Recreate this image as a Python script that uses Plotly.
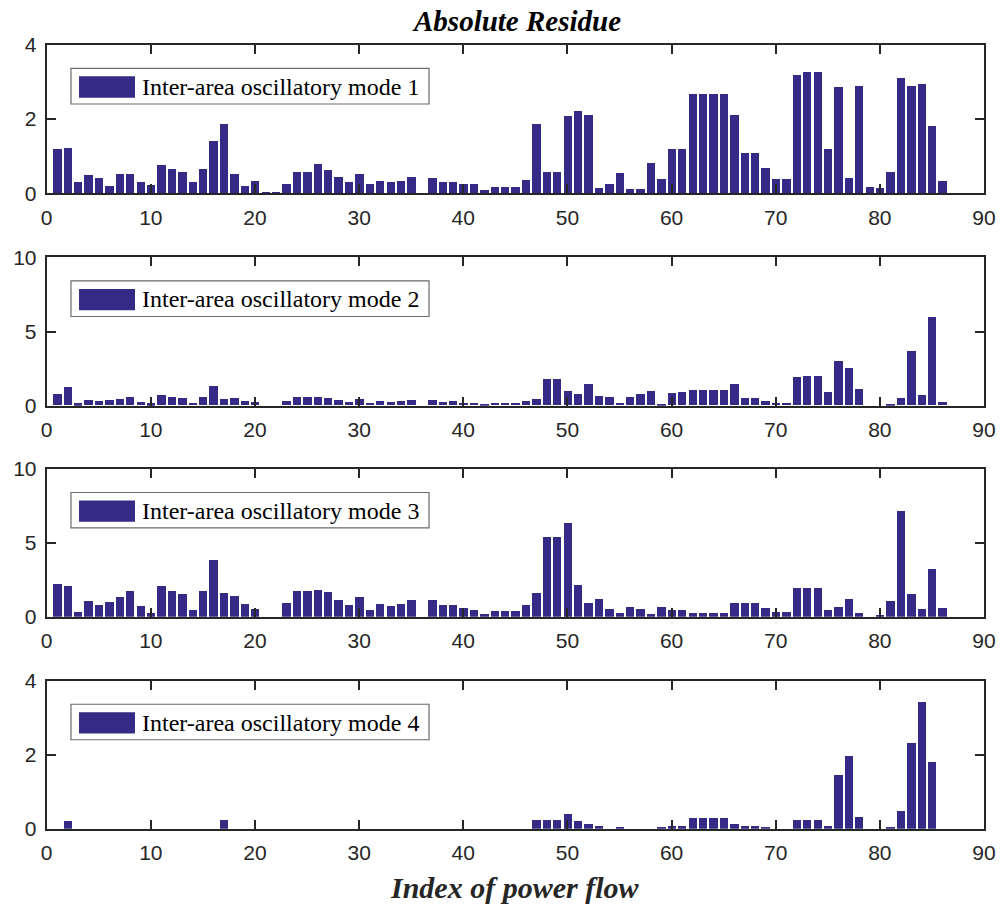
import plotly.graph_objects as go

# Index of each power flow
flow_index = list(range(1, 87))

# Absolute residue per power flow, one list per inter-area oscillatory mode
mode1 = [1.19, 1.22, 0.30, 0.49, 0.41, 0.20, 0.52, 0.52, 0.30, 0.22,
         0.76, 0.65, 0.57, 0.30, 0.65, 1.41, 1.87, 0.52, 0.20, 0.33,
         0.04, 0.04, 0.25, 0.57, 0.57, 0.79, 0.63, 0.44, 0.30, 0.52,
         0.25, 0.33, 0.30, 0.33, 0.44, 0.00, 0.41, 0.30, 0.30, 0.25,
         0.25, 0.09, 0.17, 0.17, 0.17, 0.36, 1.87, 0.57, 0.57, 2.08,
         2.22, 2.11, 0.14, 0.25, 0.55, 0.12, 0.12, 0.82, 0.39, 1.19,
         1.19, 2.67, 2.67, 2.67, 2.67, 2.11, 1.09, 1.09, 0.68, 0.39,
         0.39, 3.18, 3.26, 3.26, 1.19, 2.86, 0.41, 2.89, 0.17, 0.14,
         0.57, 3.10, 2.89, 2.94, 1.81, 0.33]

mode2 = [0.79, 1.26, 0.13, 0.38, 0.31, 0.38, 0.45, 0.58, 0.25, 0.13,
         0.72, 0.58, 0.52, 0.18, 0.58, 1.33, 0.45, 0.52, 0.31, 0.25,
         0.00, 0.00, 0.31, 0.58, 0.58, 0.58, 0.52, 0.38, 0.25, 0.45,
         0.18, 0.31, 0.25, 0.31, 0.38, 0.00, 0.38, 0.25, 0.31, 0.18,
         0.18, 0.11, 0.18, 0.18, 0.18, 0.31, 0.45, 1.80, 1.80, 0.99,
         0.79, 1.46, 0.65, 0.58, 0.18, 0.58, 0.79, 0.99, 0.11, 0.85,
         0.92, 1.06, 1.06, 1.06, 1.06, 1.46, 0.52, 0.52, 0.31, 0.18,
         0.18, 1.93, 2.00, 2.00, 0.92, 3.01, 2.54, 1.12, 0.00, 0.00,
         0.11, 0.52, 3.69, 0.72, 5.98, 0.25]

mode3 = [2.21, 2.08, 0.32, 1.06, 0.79, 0.99, 1.33, 1.74, 0.72, 0.25,
         2.08, 1.74, 1.53, 0.45, 1.74, 3.84, 1.60, 1.40, 0.86, 0.52,
         0.00, 0.00, 0.93, 1.74, 1.74, 1.81, 1.67, 1.13, 0.79, 1.33,
         0.45, 0.86, 0.72, 0.86, 1.13, 0.00, 1.13, 0.79, 0.79, 0.59,
         0.45, 0.18, 0.38, 0.38, 0.38, 0.79, 1.60, 5.40, 5.40, 6.34,
         2.14, 0.93, 1.20, 0.52, 0.25, 0.65, 0.52, 0.18, 0.65, 0.45,
         0.45, 0.25, 0.25, 0.25, 0.25, 0.93, 0.93, 0.93, 0.59, 0.32,
         0.32, 1.94, 1.94, 1.94, 0.45, 0.65, 1.20, 0.25, 0.00, 0.11,
         1.06, 7.16, 1.53, 0.52, 3.23, 0.59]

mode4 = [0.00, 0.21, 0.00, 0.00, 0.00, 0.00, 0.00, 0.00, 0.00, 0.00,
         0.00, 0.00, 0.00, 0.00, 0.00, 0.00, 0.23, 0.00, 0.00, 0.00,
         0.00, 0.00, 0.00, 0.00, 0.00, 0.00, 0.00, 0.00, 0.00, 0.00,
         0.00, 0.00, 0.00, 0.00, 0.00, 0.00, 0.00, 0.00, 0.00, 0.00,
         0.00, 0.00, 0.00, 0.00, 0.00, 0.00, 0.23, 0.23, 0.23, 0.40,
         0.21, 0.13, 0.07, 0.00, 0.05, 0.00, 0.00, 0.00, 0.05, 0.07,
         0.07, 0.29, 0.29, 0.29, 0.29, 0.13, 0.07, 0.07, 0.05, 0.00,
         0.00, 0.23, 0.23, 0.23, 0.07, 1.45, 1.96, 0.32, 0.00, 0.00,
         0.05, 0.48, 2.32, 3.42, 1.80, 0.00]

series = [mode1, mode2, mode3, mode4]
legend_labels = ["Inter-area oscillatory mode 1", "Inter-area oscillatory mode 2",
                 "Inter-area oscillatory mode 3", "Inter-area oscillatory mode 4"]
y_ranges = [[0, 4], [0, 10], [0, 10], [0, 4]]
y_dticks = [2, 5, 5, 2]
x_ticks = [0, 10, 20, 30, 40, 50, 60, 70, 80, 90]

title_text = "Absolute Residue"
xlabel_text = "Index of power flow"

BAR_COLOR = "#352a86"
AXIS_COLOR = "#262626"
W, H = 1000, 909

# panel placement in pixels (top, bottom) measured from the top of the page
panel_px = [(44.7, 193.3), (257.3, 405.7), (469.0, 616.7), (680.7, 828.7)]
x_left_px, x_right_px = 46.7, 984.0

fig = go.Figure()
shapes = []
annotations = []

tick_font = dict(family="Liberation Sans, Arial, sans-serif", size=21, color=AXIS_COLOR)
serif = "Liberation Serif, Times New Roman, serif"

for k, (vals, label, yr, dt, (top, bot)) in enumerate(
        zip(series, legend_labels, y_ranges, y_dticks, panel_px), start=1):
    sfx = "" if k == 1 else str(k)
    fig.add_trace(go.Bar(
        x=flow_index, y=vals, width=0.8,
        marker=dict(color=BAR_COLOR, line=dict(width=0)),
        xaxis="x" + sfx, yaxis="y" + sfx, showlegend=False,
        hovertemplate="%{x}: %{y}<extra></extra>",
    ))
    common = dict(
        showline=True, mirror="ticks", linecolor=AXIS_COLOR, linewidth=2,
        ticks="inside", ticklen=9, tickwidth=2, tickcolor=AXIS_COLOR,
        showgrid=False, zeroline=False, tickfont=tick_font, fixedrange=True,
        automargin=False,
    )
    fig.update_layout(**{
        "xaxis" + sfx: dict(
            domain=[x_left_px / W, x_right_px / W], range=[0, 90],
            tickvals=x_ticks, anchor="y" + sfx, ticklabelstandoff=4, **common),
        "yaxis" + sfx: dict(
            domain=[1 - bot / H, 1 - top / H], range=yr, dtick=dt,
            anchor="x" + sfx, ticklabelstandoff=4, **common),
    })

    # legend box drawn inside each panel
    xd, yd = "x" + sfx + " domain", "y" + sfx + " domain"
    shapes.append(dict(type="rect", xref=xd, yref=yd,
                       x0=0.0259, x1=0.4079, y0=0.601, y1=0.841,
                       line=dict(color="#6a6a6a", width=1.2), fillcolor="white"))
    shapes.append(dict(type="rect", xref=xd, yref=yd,
                       x0=0.0345, x1=0.0942, y0=0.643, y1=0.787,
                       line=dict(width=0), fillcolor=BAR_COLOR))
    annotations.append(dict(text=label, xref=xd, yref=yd, x=0.1000, y=0.716,
                            xanchor="left", yanchor="middle", showarrow=False,
                            font=dict(family=serif, size=24, color="black")))

annotations.append(dict(text=title_text, xref="paper", yref="paper",
                        x=516 / W, y=1 - 21 / H, xanchor="center", yanchor="middle",
                        showarrow=False,
                        font=dict(family=serif, size=29, color="black",
                                  weight="bold", style="italic")))
annotations.append(dict(text=xlabel_text, xref="paper", yref="paper",
                        x=514 / W, y=1 - 887 / H, xanchor="center", yanchor="middle",
                        showarrow=False,
                        font=dict(family=serif, size=30, color="#262626",
                                  weight="bold", style="italic")))

fig.update_layout(
    width=W, height=H, margin=dict(l=0, r=0, t=0, b=0),
    paper_bgcolor="white", plot_bgcolor="white",
    shapes=shapes, annotations=annotations, bargap=0,
)

fig.write_html("out.html")
